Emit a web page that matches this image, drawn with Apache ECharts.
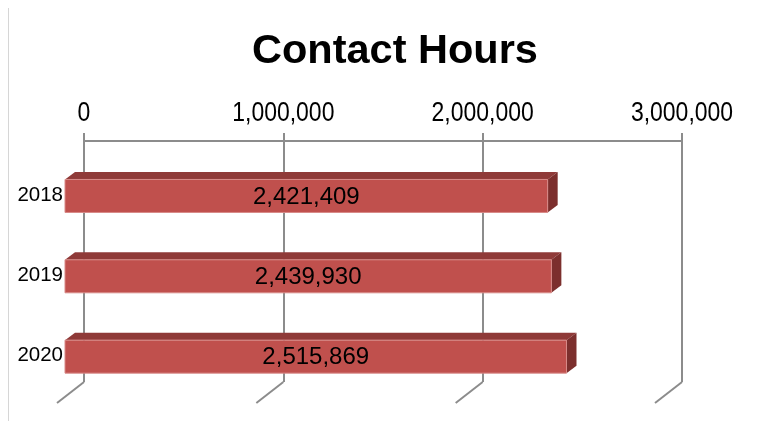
<!DOCTYPE html>
<html>
<head>
<meta charset="utf-8">
<script src="https://cdn.jsdelivr.net/npm/echarts@6/dist/echarts.min.js"></script>
<style>html,body{margin:0;padding:0;background:#fff;}#c{width:766px;height:421px;}</style>
</head>
<body>
<div id="c"></div>
<script>
const titleText = 'Contact Hours';
const categories = ['2018', '2019', '2020'];
const values = [2421409, 2439930, 2515869];
const tickValues = [0, 1000000, 2000000, 3000000];

const FONT = "'Liberation Sans', Arial, sans-serif";
const GRID_COLOR = '#8c8c8c';
const fmt = v => Number(v).toLocaleString('en-US');

const chart = echarts.init(document.getElementById('c'), null, {renderer: 'canvas'});

const FRONT_DX = -19, FRONT_DY = 14.8, DEPTH_X = 10, DEPTH_Y = 7.5, BAR_H = 33;

chart.setOption({
  animation: false,
  backgroundColor: '#fff',
  title: {
    text: titleText,
    left: 252, top: 31, padding: 0,
    textStyle: {fontSize: 41.5, fontWeight: 'bold', fontFamily: FONT, color: '#000'}
  },
  graphic: [{
    type: 'line', shape: {x1: 8.5, y1: 8, x2: 8.5, y2: 421},
    style: {stroke: '#d6d6d6', lineWidth: 1}, silent: true
  }],
  grid: {left: 84, right: 84, top: 141, bottom: 39},
  xAxis: {
    type: 'value', position: 'top', min: 0, max: 3000000, interval: 1000000,
    axisLine: {show: true, lineStyle: {color: GRID_COLOR, width: 2}},
    axisTick: {show: true, length: 8, lineStyle: {color: GRID_COLOR, width: 2}},
    axisLabel: {show: false},
    splitLine: {show: true, lineStyle: {color: GRID_COLOR, width: 2}}
  },
  yAxis: {
    type: 'category', data: categories, inverse: true,
    axisLine: {show: false}, axisTick: {show: false}, splitLine: {show: false},
    axisLabel: {show: false}
  },
  series: [
    {
      type: 'custom', name: 'axis', z: 1, silent: true,
      data: tickValues.map(v => [v, 0]),
      renderItem: function (params, api) {
        const v = api.value(0);
        const x = api.coord([v, 0])[0];
        const yt = params.coordSys.y;
        const yb = params.coordSys.y + params.coordSys.height;
        return {
          type: 'group',
          children: [
            {type: 'line', shape: {x1: x, y1: yb, x2: x - 27, y2: yb + 21},
              style: {stroke: GRID_COLOR, lineWidth: 2}},
            {type: 'text', x: x, y: yt - 27.5, scaleX: 0.82, scaleY: 1,
              style: {text: fmt(v), x: 0, y: 0, align: 'center', verticalAlign: 'middle',
                fontSize: 28, fontFamily: FONT, fill: '#000'}}
          ]
        };
      }
    },
    {
      type: 'custom', name: 'Contact Hours', z: 5,
      data: values.map((v, i) => [v, i]),
      renderItem: function (params, api) {
        const v = api.value(0), i = api.value(1);
        const p0 = api.coord([0, i]);
        const p1 = api.coord([v, i]);
        const fx0 = p0[0] + FRONT_DX, fx1 = p1[0] + FRONT_DX;
        const cy = p0[1] + FRONT_DY;
        const top = cy - BAR_H / 2, bot = cy + BAR_H / 2;
        return {
          type: 'group',
          children: [
            {type: 'polygon', shape: {points: [[fx0, top], [fx0 + DEPTH_X, top - DEPTH_Y], [fx1 + DEPTH_X, top - DEPTH_Y], [fx1, top]]},
              style: {fill: '#8f3a38'}},
            {type: 'polygon', shape: {points: [[fx1, top], [fx1 + DEPTH_X, top - DEPTH_Y], [fx1 + DEPTH_X, bot - DEPTH_Y], [fx1, bot]]},
              style: {fill: '#7c2f2d'}},
            {type: 'rect', shape: {x: fx0, y: top, width: fx1 - fx0, height: BAR_H},
              style: {fill: '#c0504d', stroke: '#d88a88', lineWidth: 1}},
            {type: 'text', style: {text: fmt(v), x: (fx0 + fx1) / 2, y: cy + 1, align: 'center', verticalAlign: 'middle',
              fontSize: 24, fontFamily: FONT, fill: '#000'}},
            {type: 'text', style: {text: categories[i], x: fx0 - 2, y: cy - 1, align: 'right', verticalAlign: 'middle',
              fontSize: 20.5, fontFamily: FONT, fill: '#000'}}
          ]
        };
      }
    }
  ]
});
</script>
</body>
</html>
